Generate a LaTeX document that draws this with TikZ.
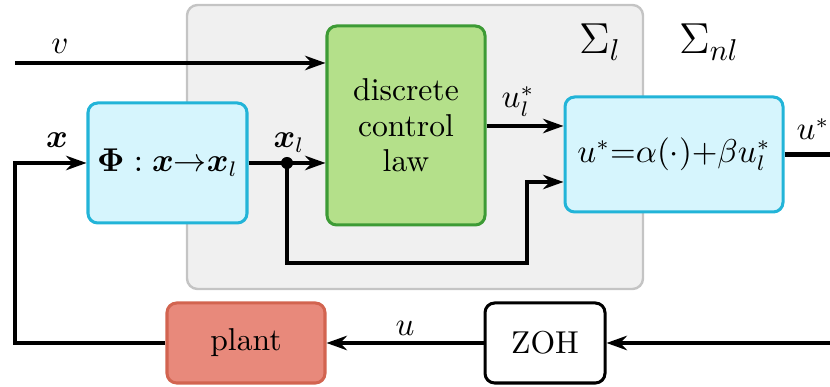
\documentclass[tikz,border=0pt]{standalone}
\usepackage{bm}
\usetikzlibrary{arrows.meta}
\definecolor{cyanf}{HTML}{D6F5FD}
\definecolor{cyanb}{HTML}{22B4D8}
\definecolor{greenf}{HTML}{B4E08A}
\definecolor{greenb}{HTML}{3D9B35}
\definecolor{plantf}{HTML}{E8897B}
\definecolor{plantb}{HTML}{D26450}
\definecolor{grayf}{HTML}{F0F0F0}
\definecolor{grayb}{HTML}{C4C4C4}
\def\pxu{0.332pt}
\begin{document}
\begin{tikzpicture}[x=0.332pt,y=-0.332pt,
  font=\fontsize{10.5pt}{11.8pt}\selectfont,
  blk/.style={draw,rounded corners=3.2pt,line width=1pt,align=center,inner sep=0pt},
  wire/.style={line width=1.35pt},
  arr/.style={wire,-{Stealth[length=6.8pt,width=4.8pt]}},
  lbl/.style={inner sep=0pt,anchor=base}]
\useasboundingbox (0,0) rectangle (830,387);
% background system box
\node[draw=grayb,fill=grayf,rounded corners=3.5pt,line width=0.8pt,
      minimum width=456*\pxu,minimum height=284*\pxu,inner sep=0pt] (sys) at (415,147) {};
% blocks
\node[blk,draw=cyanb,fill=cyanf,minimum width=159*\pxu,minimum height=120*\pxu] (phi) at (167.5,163)
  {$\bm{\Phi}:\bm{x}{\to}\bm{x}_l$};
\node[blk,draw=greenb,fill=greenf,minimum width=158*\pxu,minimum height=199*\pxu] (law) at (406,125.5)
  {discrete\\control\\law};
\node[blk,draw=cyanb,fill=cyanf,minimum width=218*\pxu,minimum height=115*\pxu] (nl) at (674,154.5)
  {$u^*{=}\alpha(\cdot){+}\beta u_l^*$};
\node[blk,draw=plantb,fill=plantf,minimum width=158*\pxu,minimum height=80*\pxu] (plant) at (246,343)
  {plant};
\node[blk,draw=black,fill=white,minimum width=120*\pxu,minimum height=80*\pxu] (zoh) at (545,343)
  {ZOH};
% coordinates
\coordinate (vin) at (15,63);
\coordinate (xc) at (15,163);
\coordinate (xl) at (287,163);
\coordinate (c2) at (527,263);
\coordinate (c3) at (527,182);
\coordinate (ul) at (500,126);
\coordinate (out) at (830,154.5);
\coordinate (uin) at (830,343);
% connectors
\draw[arr] (vin) -- (vin -| law.west);
\draw[arr] (plant.west) -| (xc) -- (phi.west);
\draw[arr] (phi.east) -- (phi.east -| law.west);
\fill (xl) circle (2pt);
\draw[arr] (xl) |- (c2) -- (c3) -- (c3 -| nl.west);
\draw[arr] (law.east |- ul) -- (nl.west |- ul);
\draw[wire] (nl.east) -- (out);
\draw[arr] (uin) -- (zoh.east);
\draw[arr] (zoh.west) -- (plant.east);
% labels
\node[lbl] (lv) at (60,54) {$v$};
\node[lbl] (lx) at (57,148) {$\bm{x}$};
\node[lbl] (lxl) at (289,148) {$\bm{x}_l$};
\node[lbl] (lul) at (518,108) {$u_l^*$};
\node[lbl] (lus) at (813,140) {$u^*$};
\node[lbl] (lu) at (405,336) {$u$};
\node[lbl,font=\Large] (sl) at (600,54) {$\Sigma_l$};
\node[lbl,font=\Large] (snl) at (709,54) {$\Sigma_{nl}$};
\end{tikzpicture}
\end{document}
